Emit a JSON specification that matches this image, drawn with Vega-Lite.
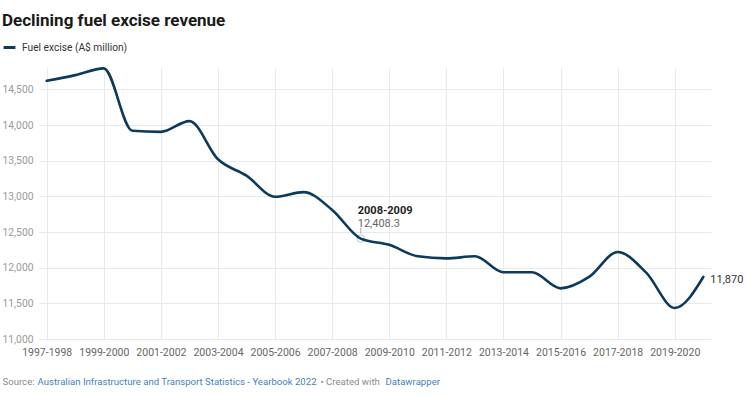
{
  "$schema": "https://vega.github.io/schema/vega-lite/v6.json",
  "width": 672,
  "height": 271,
  "autosize": {"type": "none"},
  "padding": {"left": 39, "top": 68, "right": 43, "bottom": 58},
  "background": "white",
  "title": {
    "text": "Declining fuel excise revenue",
    "anchor": "start",
    "frame": "group",
    "dx": -37,
    "offset": 10,
    "fontSize": 17,
    "font": "Roboto",
    "fontWeight": "bold",
    "color": "#1a1a1a"
  },
  "config": {"font": "Roboto", "view": {"stroke": null}},
  "data": {
    "values": [
      {"year": "1997-1998", "revenue": 14620},
      {"year": "1998-1999", "revenue": 14700},
      {"year": "1999-2000", "revenue": 14795},
      {"year": "2000-2001", "revenue": 13920},
      {"year": "2001-2002", "revenue": 13905},
      {"year": "2002-2003", "revenue": 14055},
      {"year": "2003-2004", "revenue": 13520},
      {"year": "2004-2005", "revenue": 13290},
      {"year": "2005-2006", "revenue": 12995},
      {"year": "2006-2007", "revenue": 13060},
      {"year": "2007-2008", "revenue": 12810},
      {"year": "2008-2009", "revenue": 12408.3},
      {"year": "2009-2010", "revenue": 12320},
      {"year": "2010-2011", "revenue": 12160},
      {"year": "2011-2012", "revenue": 12130},
      {"year": "2012-2013", "revenue": 12160},
      {"year": "2013-2014", "revenue": 11935},
      {"year": "2014-2015", "revenue": 11935},
      {"year": "2015-2016", "revenue": 11710},
      {"year": "2016-2017", "revenue": 11870},
      {"year": "2017-2018", "revenue": 12220},
      {"year": "2018-2019", "revenue": 11930},
      {"year": "2019-2020", "revenue": 11435},
      {"year": "2020-2021", "revenue": 11870}
    ]
  },
  "layer": [
    {
      "transform": [{"filter": "datum.year == '2008-2009'"}],
      "mark": {"type": "point", "shape": "circle", "size": 55, "filled": false, "stroke": "#b0b0b0", "strokeWidth": 1},
      "encoding": {
        "x": {
          "field": "year", "type": "ordinal",
          "axis": {
            "orient": "top", "labels": false, "ticks": false, "domain": false, "grid": false,
            "title": "Australian Infrastructure and Transport Statistics - Yearbook 2022",
            "titleX": -2, "titleY": 313, "titleAlign": "left", "titleAnchor": "start", "titleBaseline": "middle",
            "titleAngle": 0, "titleFontSize": 9.6, "titleFontWeight": "normal", "titleColor": "#3f7fc4", "titleFont": "Roboto"
          }
        },
        "y": {"field": "revenue", "type": "quantitative", "axis": null}
      }
    },
    {
      "transform": [{"filter": "datum.year == '2008-2009'"}],
      "mark": {"type": "rule", "stroke": "#b0b0b0", "strokeWidth": 1, "yOffset": -5, "y2Offset": -11},
      "encoding": {
        "x": {"field": "year", "type": "ordinal", "axis": null},
        "y": {"field": "revenue", "type": "quantitative", "axis": null},
        "y2": {"field": "revenue"}
      }
    },
    {
      "mark": {"type": "line", "interpolate": "monotone", "strokeWidth": 2.6, "strokeCap": "round", "strokeJoin": "round"},
      "encoding": {
        "x": {
          "field": "year", "type": "ordinal", "sort": null,
          "scale": {"type": "point", "padding": 0.27, "domain": ["1997-1998","1998-1999","1999-2000","2000-2001","2001-2002","2002-2003","2003-2004","2004-2005","2005-2006","2006-2007","2007-2008","2008-2009","2009-2010","2010-2011","2011-2012","2012-2013","2013-2014","2014-2015","2015-2016","2016-2017","2017-2018","2018-2019","2019-2020","2020-2021"]},
          "axis": {
            "orient": "bottom",
            "values": ["1997-1998","1999-2000","2001-2002","2003-2004","2005-2006","2007-2008","2009-2010","2011-2012","2013-2014","2015-2016","2017-2018","2019-2020"],
            "domain": false, "ticks": false, "grid": true, "gridColor": "#e9e9e9", "gridWidth": 1,
            "labelAngle": 0, "labelFontSize": 10.5, "labelColor": "#666666", "labelPadding": 8, "labelFont": "Roboto",
            "title": "Source:", "titleX": -37, "titleY": 42, "titleAlign": "left", "titleAnchor": "start", "titleBaseline": "middle",
            "titleFontSize": 9.6, "titleFontWeight": "normal", "titleColor": "#8a8a8a", "titleFont": "Roboto"
          }
        },
        "y": {
          "field": "revenue", "type": "quantitative",
          "scale": {"domain": [11000, 14800], "nice": false, "zero": false},
          "axis": {
            "orient": "left",
            "values": [11000, 11500, 12000, 12500, 13000, 13500, 14000, 14500],
            "format": ",.0f",
            "domain": false, "ticks": false, "grid": true, "gridColor": "#e9e9e9", "gridWidth": 1,
            "labelAlign": "left", "labelPadding": 37, "labelBaseline": "middle", "labelFontSize": 10.3, "labelColor": "#9a9a9a", "labelFont": "Roboto",
            "title": "Datawrapper", "titleAngle": 0, "titleX": 346, "titleY": 313, "titleAlign": "left", "titleAnchor": "start", "titleBaseline": "middle",
            "titleFontSize": 9.6, "titleFontWeight": "normal", "titleColor": "#3f7fc4", "titleFont": "Roboto"
          }
        },
        "color": {
          "datum": "Fuel excise (A$ million)",
          "scale": {"range": ["#0b3a5c"]},
          "legend": {
            "orient": "none", "legendX": -37, "legendY": -28, "title": null, "padding": 0,
            "symbolType": "stroke", "symbolStrokeWidth": 3, "symbolSize": 140,
            "labelFontSize": 10.2, "labelColor": "#333333", "labelFont": "Roboto", "labelOffset": 5
          }
        }
      }
    },
    {
      "transform": [{"filter": "datum.year == '2020-2021'"}],
      "mark": {"type": "text", "align": "left", "dx": 7, "dy": 3, "fontSize": 11, "color": "#333333"},
      "encoding": {
        "x": {"field": "year", "type": "ordinal", "axis": null},
        "y": {
          "field": "revenue", "type": "quantitative",
          "axis": {
            "orient": "right", "labels": false, "ticks": false, "domain": false, "grid": false,
            "title": "• Created with", "titleAngle": 0, "titleX": -391, "titleY": 313, "titleAlign": "left", "titleAnchor": "start", "titleBaseline": "middle",
            "titleFontSize": 9.6, "titleFontWeight": "normal", "titleColor": "#8a8a8a", "titleFont": "Roboto"
          }
        },
        "text": {"field": "revenue", "type": "quantitative", "format": ","}
      }
    },
    {
      "transform": [{"filter": "datum.year == '2008-2009'"}],
      "mark": {"type": "text", "align": "left", "dx": -3, "dy": -28, "fontSize": 11, "fontWeight": "bold", "color": "#222222"},
      "encoding": {
        "x": {"field": "year", "type": "ordinal", "axis": null},
        "y": {"field": "revenue", "type": "quantitative", "axis": null},
        "text": {"field": "year"}
      }
    },
    {
      "transform": [{"filter": "datum.year == '2008-2009'"}],
      "mark": {"type": "text", "align": "left", "dx": -3, "dy": -15, "fontSize": 11, "color": "#666666"},
      "encoding": {
        "x": {"field": "year", "type": "ordinal", "axis": null},
        "y": {"field": "revenue", "type": "quantitative", "axis": null},
        "text": {"field": "revenue", "type": "quantitative", "format": ",.1f"}
      }
    }
  ],
  "resolve": {"axis": {"x": "independent", "y": "independent"}}
}
